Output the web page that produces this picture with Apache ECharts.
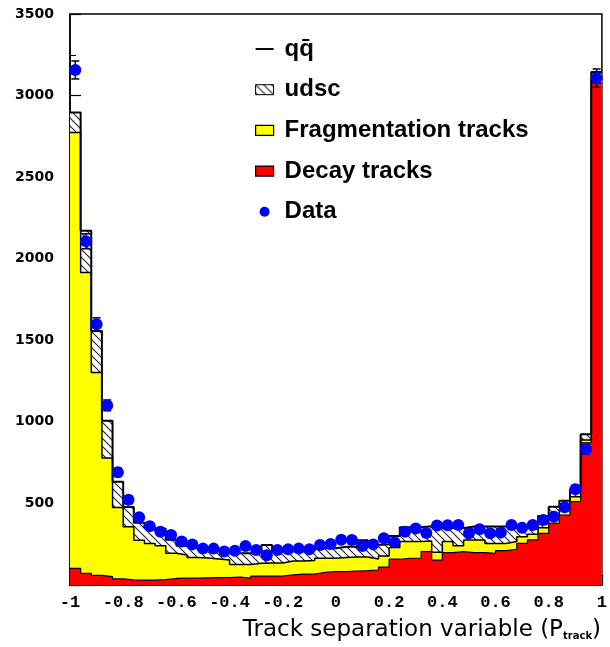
<!DOCTYPE html>
<html>
<head>
<meta charset="utf-8">
<script src="https://cdn.jsdelivr.net/npm/echarts@6/dist/echarts.min.js"></script>
<style>html,body{margin:0;padding:0;background:#fff;}#chart{width:610px;height:647px;}</style>
</head>
<body>
<div id="chart"></div>
<script>
// Bin centres of P_track histogram (50 bins, -1 .. 1)
const binCenters = [-0.98,-0.94,-0.90,-0.86,-0.82,-0.78,-0.74,-0.70,-0.66,-0.62,-0.58,-0.54,-0.50,-0.46,-0.42,-0.38,-0.34,-0.30,-0.26,-0.22,-0.18,-0.14,-0.10,-0.06,-0.02,0.02,0.06,0.10,0.14,0.18,0.22,0.26,0.30,0.34,0.38,0.42,0.46,0.50,0.54,0.58,0.62,0.66,0.70,0.74,0.78,0.82,0.86,0.90,0.94,0.98];
// Decay tracks (red)
const decayTracks = [102,72,59,51,37,31,30,30,33,40,42,42,44,45,45,48,42,55,55,55,62,67,67,78,82,82,85,88,92,110,158,164,164,204,153,198,204,198,198,194,211,219,255,276,317,378,429,511,872,3078];
// Fragmentation tracks (yellow)
const fragmentationTracks = [2671,1843,1243,728,438,326,244,225,208,154,142,126,121,115,108,77,83,78,80,80,85,80,83,86,82,86,87,84,68,68,72,102,102,66,47,68,36,78,78,61,44,47,41,35,34,41,35,30,17,22];
// udsc contribution (hatched)
const udscTracks = [123,257,255,228,158,121,108,95,104,84,56,64,57,55,52,70,69,67,110,70,60,60,60,61,61,67,63,103,85,72,70,88,88,90,150,84,110,82,83,104,104,84,62,47,72,61,53,46,35,45];
// Data
const dataValues = [3157,2107,1598,1101,691,522,416,360,327,307,266,249,223,223,205,210,239,215,182,215,219,223,219,245,251,278,276,239,249,286,262,327,347,319,364,366,368,317,342,317,321,368,351,368,399,419,476,587,832,3107];
const dataErrors = [55,46,40,33,26,23,20,19,18,18,16,16,15,15,14,14,15,15,13,15,15,15,15,16,16,17,17,15,16,17,16,18,19,18,19,19,19,18,18,18,18,19,19,19,20,20,22,24,29,56];
const yTicks = [500,1000,1500,2000,2500,3000,3500];
const xTicks = ['-1','-0.8','-0.6','-0.4','-0.2','0','0.2','0.4','0.6','0.8','1'];

// stacked tops
const cumDecay = decayTracks.slice();
const cumFrag = decayTracks.map((v,i)=>v+fragmentationTracks[i]);
const cumTotal = cumFrag.map((v,i)=>v+udscTracks[i]);
const half = (binCenters[1]-binCenters[0])/2;
function stepData(arr){
  const d = binCenters.map((c,i)=>[c-half, arr[i]]);
  d.push([binCenters[binCenters.length-1]+half, arr[arr.length-1]]);
  return d;
}

// hatch pattern
const hc = document.createElement('canvas');
hc.width = 8; hc.height = 8;
const hx = hc.getContext('2d');
hx.fillStyle = '#fff'; hx.fillRect(0,0,8,8);
hx.strokeStyle = '#222'; hx.lineWidth = 1.1;
hx.beginPath();
hx.moveTo(-1,-1); hx.lineTo(9,9);
hx.moveTo(-1,7); hx.lineTo(1,9);
hx.moveTo(7,-1); hx.lineTo(9,1);
hx.stroke();
const hatch = {image: hc, repeat: 'repeat'};

const QQ = 'qq\u0304';
const chart = echarts.init(document.getElementById('chart'), null, {renderer:'canvas'});
chart.setOption({
  animation: false,
  backgroundColor: '#fff',
  grid: {left: 70, right: 5, top: 14, bottom: 62, show: true, borderColor: '#000', borderWidth: 1.5, backgroundColor: 'transparent'},
  title: {
    text: '{a|Track separation variable (P}{s|track}{a|)}',
    right: 4, top: 614,
    textStyle: {rich: {
      a: {fontFamily: 'DejaVu Sans', fontSize: 23, color: '#000', fontWeight: 'normal'},
      s: {fontFamily: 'DejaVu Sans', fontSize: 10, color: '#000', fontWeight: 'bold', padding: [12,0,0,0]}
    }}
  },
  legend: {
    orient: 'vertical', left: 250, top: 32, itemWidth: 18, itemHeight: 10, itemGap: 16.7,
    selectedMode: false,
    textStyle: {fontFamily: 'Liberation Sans', fontWeight: 'bold', fontSize: 24, color: '#000', padding: [0,0,0,6]},
    data: [
      {name: QQ, icon: 'path://M0,0H13V1.4H0Z', itemStyle: {color: '#000', borderWidth: 0}},
      {name: 'udsc', icon: 'rect', itemStyle: {color: hatch, borderColor: '#000', borderWidth: 1}},
      {name: 'Fragmentation tracks', icon: 'rect', itemStyle: {color: '#ffff00', borderColor: '#000', borderWidth: 1.2}},
      {name: 'Decay tracks', icon: 'rect', itemStyle: {color: '#ff0000', borderColor: '#000', borderWidth: 1.2}},
      {name: 'Data', icon: 'circle', itemStyle: {color: '#0000ff', borderWidth: 0, opacity: 1}}
    ]
  },
  xAxis: {
    type: 'value', min: -1, max: 1, interval: 0.2,
    axisLine: {show: true, onZero: false, lineStyle: {color: '#000', width: 1.5}},
    axisTick: {show: true, inside: true, length: 10, lineStyle: {color: '#000', width: 1.2}},
    minorTick: {show: true, splitNumber: 4, length: 5, lineStyle: {color: '#000', width: 1}},
    splitLine: {show: false},
    axisLabel: {margin: 9, fontFamily: 'Liberation Mono', fontWeight: 'bold', fontSize: 17, color: '#000',
      formatter: (v)=>{ const s = xTicks.find(t=>Math.abs(parseFloat(t)-v)<1e-6); return s!==undefined?s:''; }}
  },
  yAxis: {
    type: 'value', min: 0, max: 3500, interval: 500,
    axisLine: {show: true, onZero: false, lineStyle: {color: '#000', width: 1.5}},
    axisTick: {show: true, inside: true, length: 11, lineStyle: {color: '#000', width: 1.2}},
    minorTick: {show: true, splitNumber: 2, length: 6, lineStyle: {color: '#000', width: 1}},
    splitLine: {show: false},
    axisLabel: {margin: 16, showMinLabel: false, fontFamily: 'DejaVu Sans', fontWeight: 'bold', fontSize: 14, color: '#000',
      formatter: (v)=> yTicks.indexOf(v)>=0 ? String(v) : ''}
  },
  series: [
    {name: 'udsc', type: 'line', step: 'end', data: stepData(cumTotal), symbol: 'none', z: 1,
      lineStyle: {width: 0, color: '#000'}, itemStyle: {color: hatch}, areaStyle: {color: hatch, opacity: 1}},
    {name: 'Fragmentation tracks', type: 'line', step: 'end', data: stepData(cumFrag), symbol: 'none', z: 2,
      lineStyle: {width: 1.5, color: '#000'}, itemStyle: {color: '#ffff00'}, areaStyle: {color: '#ffff00', opacity: 1}},
    {name: 'Decay tracks', type: 'line', step: 'end', data: stepData(cumDecay), symbol: 'none', z: 3,
      lineStyle: {width: 1.2, color: '#000'}, itemStyle: {color: '#ff0000'}, areaStyle: {color: '#ff0000', opacity: 1}},
    {name: QQ, type: 'line', step: 'end', data: stepData(cumTotal), symbol: 'none', z: 4,
      lineStyle: {width: 2, color: '#000'}, itemStyle: {color: '#000'}},
    {name: 'errors', type: 'custom', z: 5,
      data: binCenters.map((c,i)=>[c, dataValues[i], dataErrors[i]]),
      renderItem: function(params, api){
        const x = api.value(0), y = api.value(1), e = api.value(2);
        const lo = api.coord([x, y-e]), hi = api.coord([x, y+e]);
        const st = {stroke: '#000', lineWidth: 1.5};
        return {type: 'group', children: [
          {type: 'line', shape: {x1: lo[0], y1: lo[1], x2: hi[0], y2: hi[1]}, style: st},
          {type: 'line', shape: {x1: lo[0]-4, y1: lo[1], x2: lo[0]+4, y2: lo[1]}, style: st},
          {type: 'line', shape: {x1: hi[0]-4, y1: hi[1], x2: hi[0]+4, y2: hi[1]}, style: st}
        ]};
      }},
    {name: 'Data', type: 'scatter', z: 6, symbol: 'circle', symbolSize: 12,
      itemStyle: {color: '#0000ff', opacity: 1},
      data: binCenters.map((c,i)=>[c, dataValues[i]])}
  ]
});
</script>
</body>
</html>
